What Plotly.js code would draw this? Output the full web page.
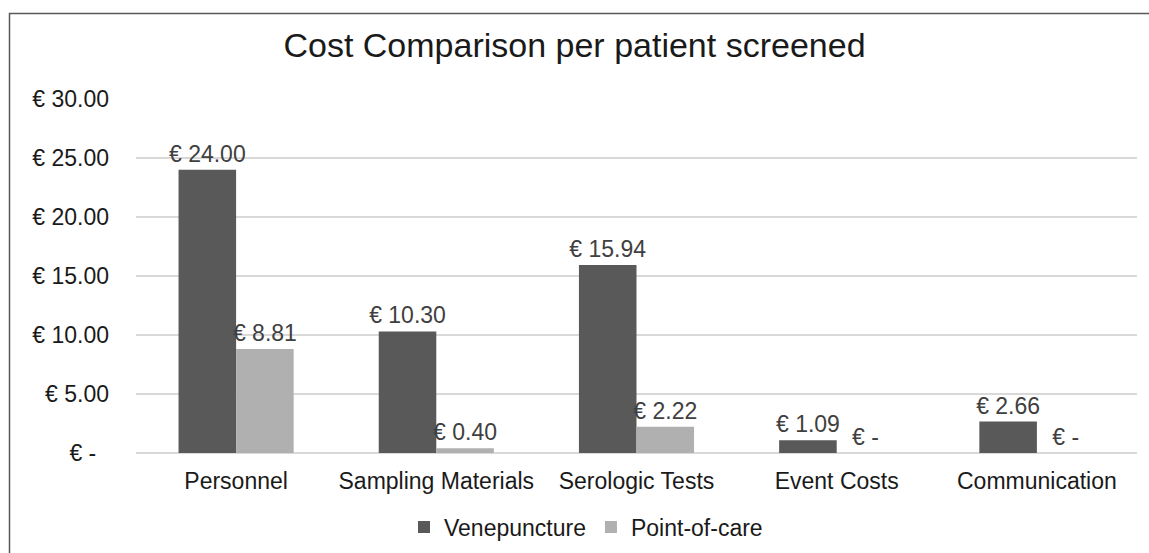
<!DOCTYPE html>
<html>
<head>
<meta charset="utf-8">
<script src="https://cdn.plot.ly/plotly-3.0.1.min.js"></script>
<style>
html,body{margin:0;padding:0;background:#fff;}
#chart{width:1149px;height:553px;}
</style>
</head>
<body>
<div id="chart"></div>
<script>
const categories = ["Personnel", "Sampling Materials", "Serologic Tests", "Event Costs", "Communication"];
const venepuncture = [24.00, 10.30, 15.94, 1.09, 2.66];
const pointOfCare = [8.81, 0.40, 2.22, 0, 0];
const tickValues = [0, 5, 10, 15, 20, 25, 30];
const tickLabels = ["€ -\u00a0\u00a0", "€ 5.00", "€ 10.00", "€ 15.00", "€ 20.00", "€ 25.00", "€ 30.00"];

function fmt(v) { return v === 0 ? "€ -" : "€ " + v.toFixed(2); }

const font = "Liberation Sans, Arial, sans-serif";
const labelFont = {family: font, size: 23, color: "#404040"};
const axisFont = {family: font, size: 23, color: "#1a1a1a"};

const traces = [
  {type: "bar", name: "Venepuncture", x: categories, y: venepuncture,
   marker: {color: "#595959"}, text: venepuncture.map(fmt), textposition: "outside",
   constraintext: "none", textfont: labelFont, cliponaxis: false, hoverinfo: "skip"},
  {type: "bar", name: "Point-of-care", x: categories, y: pointOfCare,
   marker: {color: "#b0b0b0"}, text: pointOfCare.map(fmt), textposition: "outside",
   constraintext: "none", textfont: labelFont, cliponaxis: false, hoverinfo: "skip"}
];

const layout = {
  width: 1149, height: 553, autosize: false,
  margin: {l: 136, r: 12, t: 98, b: 100, autoexpand: false},
  paper_bgcolor: "#fff", plot_bgcolor: "#fff",
  font: axisFont,
  title: {text: "Cost Comparison per patient screened", xref: "container", x: 0.5, xanchor: "center",
          yref: "container", y: 1 - 45/553, yanchor: "middle",
          font: {family: font, size: 34, color: "#1a1a1a"}},
  barmode: "group", bargap: 0.425, bargroupgap: 0,
  xaxis: {showgrid: false, zeroline: false, showline: false, ticks: "", tickangle: 0,
          ticklabelstandoff: 12, automargin: false, tickfont: axisFont, fixedrange: true},
  yaxis: {range: [0, 30.08], tickvals: tickValues, ticktext: tickLabels, showgrid: true,
          gridcolor: "#d9d9d9", gridwidth: 1.5, zeroline: true, zerolinecolor: "#d9d9d9", zerolinewidth: 1.5,
          showline: false, ticks: "", ticklabelstandoff: 26, automargin: false,
          tickfont: axisFont, fixedrange: true},
  legend: {orientation: "h", x: (586 - 136) / 1001, xanchor: "center",
           y: (453 - 527) / 355, yanchor: "middle",
           font: axisFont, traceorder: "normal"},
  shapes: [{type: "rect", xref: "paper", yref: "paper",
            x0: (9.5 - 136) / 1001, x1: (1170 - 136) / 1001,
            y0: (453 - 600) / 355, y1: (453 - 13.5) / 355,
            line: {color: "#595959", width: 1.5}, fillcolor: "rgba(0,0,0,0)", layer: "below"}],
  showlegend: true
};

Plotly.newPlot("chart", traces, layout, {staticPlot: true, displayModeBar: false});
</script>
</body>
</html>
